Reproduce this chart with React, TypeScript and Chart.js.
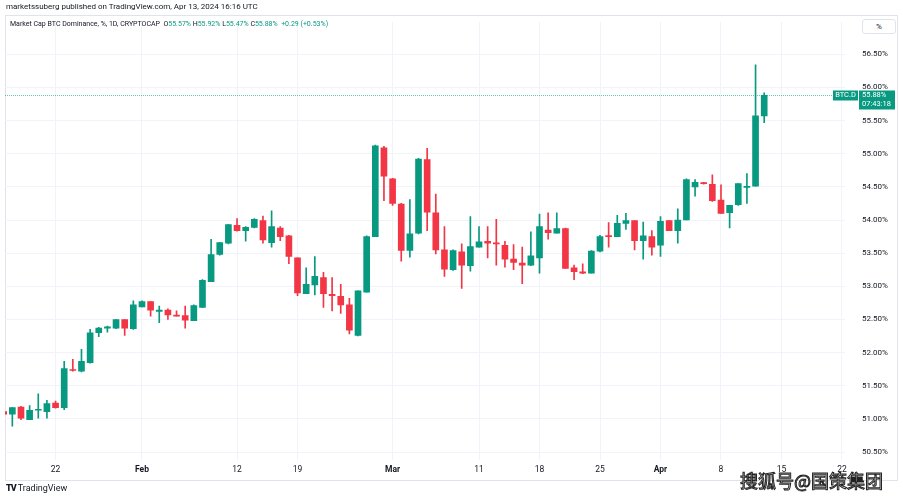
import React, { useEffect, useRef } from "react";
import { Chart, registerables } from "chart.js";

Chart.register(...registerables);

// ---- data (daily candles, BTC dominance %) ----
const startDate = "2024-01-16";

const openVals = [
  51.11, 51.07, 51.18, 50.99, 51.13, 51.11, 51.24, 51.17, 51.74, 51.72, 51.85, 52.3, 52.37, 52.37, 52.5, 52.36,
  52.69, 52.77, 52.62, 52.64, 52.56, 52.56, 52.48, 52.68, 53.07, 53.48, 53.65, 53.92, 53.84, 53.89, 53.99, 53.66,
  53.88, 53.76, 53.43, 52.89, 53.02, 53.13, 52.88, 52.85, 52.72, 52.26, 52.91, 53.75, 55.09,
  54.62, 54.24, 53.54, 53.8, 54.91, 54.11, 53.55, 53.25, 53.52, 53.31, 53.59, 53.68, 53.65, 53.62, 53.41, 53.35,
  53.32, 53.43, 53.85, 53.8, 53.87, 53.28, 53.22, 53.2, 53.53, 53.76, 53.75, 53.95, 53.99, 53.69, 53.75,
  53.62, 53.99, 53.84, 54.0, 54.5, 54.56, 54.54, 54.3, 54.11, 54.23, 54.49, 54.51, 55.57,
];
const highVals = [
  51.13, 51.17, 51.19, 51.2, 51.38, 51.28, 51.27, 51.87, 51.9, 52.05, 52.35, 52.38, 52.4, 52.5, 52.5, 52.78,
  52.78, 52.77, 52.7, 52.66, 52.63, 52.7, 52.72, 53.1, 53.71, 53.66, 53.93, 54.02, 53.9, 54.02, 54.06, 54.14,
  53.9, 53.77, 53.43, 53.28, 53.45, 53.21, 53.13, 53.03, 52.82, 52.93, 53.76, 55.13, 55.11,
  54.63, 54.25, 54.31, 54.93, 55.08, 54.39, 53.9, 53.55, 53.64, 54.05, 53.9, 53.9, 54.01, 53.68, 53.63, 53.59,
  53.82, 54.09, 54.11, 54.11, 53.88, 53.32, 53.34, 53.54, 53.77, 53.96, 54.07, 54.1, 53.99, 53.97, 53.84,
  54.05, 53.99, 54.17, 54.62, 54.61, 54.57, 54.68, 54.53, 54.22, 54.55, 54.7, 56.34, 55.92,
];
const lowVals = [
  51.05, 50.89, 50.99, 50.99, 51.01, 51.01, 51.16, 51.14, 51.72, 51.71, 51.84, 52.24, 52.31, 52.36, 52.26, 52.35,
  52.69, 52.55, 52.45, 52.5, 52.55, 52.37, 52.48, 52.68, 53.07, 53.47, 53.64, 53.83, 53.68, 53.88, 53.65, 53.59,
  53.69, 53.34, 52.86, 52.89, 52.87, 52.68, 52.63, 52.59, 52.28, 52.25, 52.91, 53.75, 54.29,
  54.22, 53.38, 53.44, 53.79, 53.84, 53.49, 53.15, 53.24, 52.97, 53.23, 53.59, 53.43, 53.32, 53.29, 53.25, 53.04,
  53.31, 53.2, 53.71, 53.8, 53.27, 53.1, 53.19, 53.2, 53.52, 53.59, 53.75, 53.86, 53.55, 53.41, 53.47,
  53.45, 53.84, 53.65, 54.0, 54.36, 54.54, 54.28, 54.1, 53.88, 54.22, 54.25, 54.51, 55.47,
];
const closeVals = [
  51.07, 51.17, 51.01, 51.13, 51.14, 51.23, 51.17, 51.76, 51.73, 51.87, 52.3, 52.37, 52.39, 52.5, 52.37, 52.72,
  52.77, 52.64, 52.64, 52.57, 52.55, 52.49, 52.71, 53.09, 53.48, 53.66, 53.93, 53.84, 53.89, 54.01, 53.7, 53.9,
  53.75, 53.45, 52.9, 53.03, 53.15, 52.89, 52.86, 52.72, 52.34, 52.93, 53.75, 55.12, 54.66,
  54.25, 53.54, 53.79, 54.92, 54.12, 53.55, 53.26, 53.54, 53.32, 53.6, 53.67, 53.65, 53.64, 53.41, 53.36, 53.32,
  53.46, 53.9, 53.81, 53.87, 53.27, 53.22, 53.2, 53.53, 53.75, 53.75, 53.95, 53.99, 53.69, 53.76, 53.59,
  53.98, 53.84, 54.0, 54.61, 54.57, 54.55, 54.29, 54.1, 54.22, 54.55, 54.51, 55.57, 55.88,
];

const xTickDates = [
  "2024-01-22", "2024-02-01", "2024-02-12", "2024-02-19", "2024-03-01", "2024-03-11",
  "2024-03-18", "2024-03-25", "2024-04-01", "2024-04-08", "2024-04-15", "2024-04-22",
];
const xTickLabels = ["22", "Feb", "12", "19", "Mar", "11", "18", "25", "Apr", "8", "15", "22"];
const monthLabels = ["Feb", "Mar", "Apr"];
const yTickValues = [50.5, 51, 51.5, 52, 52.5, 53, 53.5, 54, 54.5, 55, 55.5, 56, 56.5];

const UP = "#089981";
const DOWN = "#f23645";
const FONT = "Roboto, 'Noto Sans', sans-serif";

const dayIndex = (d: string) => Math.round((Date.parse(d) - Date.parse(startDate)) / 86400000);

const priceLinePlugin = {
  id: "priceLine",
  afterDatasetsDraw(chart: any) {
    const { ctx, chartArea, scales } = chart;
    const last = closeVals[closeVals.length - 1];
    const y = Math.round(scales.y.getPixelForValue(last)) + 0.5;
    ctx.save();
    ctx.strokeStyle = "rgba(8,153,129,0.6)";
    ctx.lineWidth = 1;
    ctx.setLineDash([1, 1]);
    ctx.beginPath();
    ctx.moveTo(chartArea.left, y);
    ctx.lineTo(chartArea.right, y);
    ctx.stroke();
    ctx.setLineDash([]);
    // BTC.D label
    ctx.fillStyle = UP;
    ctx.fillRect(chartArea.right - 12, y - 5, 25, 10);
    ctx.fillStyle = "#ffffff";
    ctx.font = `7.5px ${FONT}`;
    ctx.textAlign = "center";
    ctx.textBaseline = "middle";
    ctx.fillText("BTC.D", chartArea.right + 0.5, y);
    // price box
    const bx = chartArea.right + 14;
    ctx.fillStyle = UP;
    ctx.fillRect(bx, y - 5, 36, 19);
    ctx.fillStyle = "#ffffff";
    ctx.textAlign = "left";
    ctx.fillText(last.toFixed(2) + "%", bx + 3, y);
    ctx.fillText("07:43:18", bx + 3, y + 9);
    ctx.restore();
  },
};

export default function App() {
  const canvasRef = useRef<HTMLCanvasElement | null>(null);

  useEffect(() => {
    document.body.style.margin = "0";
    const canvas = canvasRef.current;
    if (!canvas) return;
    const xs = openVals.map((_, i) => i);
    const colors = openVals.map((o, i) => (closeVals[i] >= o ? UP : DOWN));
    const chart = new Chart(canvas, {
      type: "bar",
      data: {
        datasets: [
          {
            label: "wick",
            data: xs.map((x, i) => ({ x, y: [lowVals[i], highVals[i]] })) as any,
            backgroundColor: colors,
            barThickness: 1,
            grouped: false,
            order: 2,
          } as any,
          {
            label: "body",
            data: xs.map((x, i) => ({ x, y: [openVals[i], closeVals[i]] })) as any,
            backgroundColor: colors,
            barThickness: 6,
            minBarLength: 1,
            grouped: false,
            order: 1,
          } as any,
        ],
      },
      options: {
        animation: false,
        responsive: false,
        maintainAspectRatio: false,
        devicePixelRatio: 1,
        layout: { padding: { left: 5, top: 16, right: 6, bottom: 20 } },
        plugins: { legend: { display: false }, tooltip: { enabled: false } },
        scales: {
          x: {
            type: "linear",
            min: 0.15,
            max: 97.35,
            offset: false,
            afterBuildTicks: (s: any) => {
              s.ticks = xTickDates.map((d) => ({ value: dayIndex(d) }));
            },
            afterFit: (s: any) => {
              s.height = 20;
            },
            ticks: {
              autoSkip: false,
              maxRotation: 0,
              padding: 5,
              color: "#131722",
              font: (c: any) => ({
                family: FONT,
                size: 8.5,
                weight: monthLabels.includes(xTickLabels[c.index]) ? "bold" : "normal",
              }),
              callback: (_v: any, i: number) => xTickLabels[i],
            },
            grid: { color: "#f0f3fa", drawTicks: false, offset: false },
            border: { display: false },
          },
          y: {
            type: "linear",
            position: "right",
            min: 50.38,
            max: 56.99,
            afterBuildTicks: (s: any) => {
              s.ticks = yTickValues.map((v) => ({ value: v }));
            },
            afterFit: (s: any) => {
              s.width = 52;
            },
            ticks: {
              padding: 17,
              color: "#131722",
              font: { family: FONT, size: 8 },
              callback: (v: any) => Number(v).toFixed(2) + "%",
            },
            grid: { color: "#f0f3fa", drawTicks: false },
            border: { display: false },
          },
        },
      } as any,
      plugins: [priceLinePlugin],
    });
    return () => chart.destroy();
  }, []);

  const green = { color: UP };
  return (
    <div
      style={{
        position: "absolute",
        left: 0,
        top: 0,
        width: 903,
        height: 500,
        background: "#ffffff",
        fontFamily: FONT,
        overflow: "hidden",
      }}
    >
      <div
        style={{
          position: "absolute",
          left: 5,
          top: 15,
          width: 891,
          height: 464,
          border: "1px solid #e0e3eb",
        }}
      />
      <canvas ref={canvasRef} width={903} height={500} style={{ position: "absolute", left: 0, top: 0 }} />
      <div style={{ position: "absolute", left: 6, top: 2, fontSize: 8, color: "#131722", whiteSpace: "nowrap" }}>
        marketssuberg published on TradingView.com, Apr 13, 2024 16:16 UTC
      </div>
      <div style={{ position: "absolute", left: 10, top: 20, fontSize: 7, color: "#131722", whiteSpace: "nowrap" }}>
        Market Cap BTC Dominance, %, 1D, CRYPTOCAP&nbsp;&nbsp;O<span style={green}>55.57%</span>&nbsp;H
        <span style={green}>55.92%</span>&nbsp;L<span style={green}>55.47%</span>&nbsp;C
        <span style={green}>55.88%</span>&nbsp;&nbsp;<span style={green}>+0.29 (+0.53%)</span>
      </div>
      <div
        style={{
          position: "absolute",
          left: 862,
          top: 19,
          width: 32,
          height: 13,
          border: "1px solid #e0e3eb",
          borderRadius: 3,
          fontSize: 8,
          color: "#131722",
          lineHeight: "13px",
          textAlign: "center",
          background: "#ffffff",
        }}
      >
        %
      </div>
      <div
        style={{
          position: "absolute",
          left: 6,
          top: 483,
          fontSize: 9,
          color: "#131722",
          whiteSpace: "nowrap",
        }}
      >
        <span style={{ fontWeight: 900, letterSpacing: -1 }}>TV</span> TradingView
      </div>
      <div
        style={{
          position: "absolute",
          left: 740,
          top: 467,
          fontSize: 18,
          fontFamily: "'Noto Sans CJK SC', sans-serif",
          color: "#ffffff",
          WebkitTextStroke: "1px #222222",
          whiteSpace: "nowrap",
          letterSpacing: 0,
        }}
      >
        搜狐号@国策集团
      </div>
    </div>
  );
}
